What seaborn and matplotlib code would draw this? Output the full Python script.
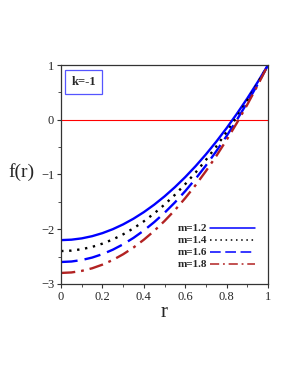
import numpy as np
import pandas as pd
import matplotlib
matplotlib.use("Agg")
import matplotlib.pyplot as plt
import seaborn as sns
from matplotlib.ticker import MultipleLocator

# values
r = [0.0, 0.05, 0.1, 0.15, 0.2, 0.25, 0.3, 0.35, 0.4, 0.45, 0.5,
     0.55, 0.6, 0.65, 0.7, 0.75, 0.8, 0.85, 0.9, 0.95, 1.0]
f_m12 = [-2.2, -2.192, -2.168, -2.128, -2.072, -2.0, -1.912, -1.808, -1.688, -1.552, -1.4,
         -1.232, -1.048, -0.848, -0.632, -0.4, -0.152, 0.112, 0.392, 0.688, 1.0]
f_m14 = [-2.4, -2.392, -2.366, -2.324, -2.264, -2.188, -2.094, -1.984, -1.856, -1.712, -1.55,
         -1.372, -1.176, -0.964, -0.734, -0.488, -0.224, 0.057, 0.354, 0.669, 1.0]
f_m16 = [-2.6, -2.591, -2.564, -2.519, -2.456, -2.375, -2.276, -2.159, -2.024, -1.871, -1.7,
         -1.511, -1.304, -1.079, -0.836, -0.575, -0.296, 0.001, 0.316, 0.649, 1.0]
f_m18 = [-2.8, -2.791, -2.762, -2.715, -2.648, -2.563, -2.458, -2.335, -2.192, -2.031, -1.85,
         -1.652, -1.432, -1.195, -0.938, -0.663, -0.368, -0.055, 0.278, 0.630, 1.0]

labels = ["m=1.2", "m=1.4", "m=1.6", "m=1.8"]
series = [f_m12, f_m14, f_m16, f_m18]
colors = ["#0000ff", "#000000", "#0000ff", "#b22222"]
dashes = ["-", (0, (1, 2.4)), (0, (7, 3)), (0, (6, 2.5, 1.2, 2.5))]

xticks = [0, 0.2, 0.4, 0.6, 0.8, 1]
xtick_labels = ["0", "0.2", "0.4", "0.6", "0.8", "1"]
yticks = [-3, -2, -1, 0, 1]
ytick_labels = ["\u22123", "\u22122", "\u22121", "0", "1"]

sns.set_style("ticks")
plt.rcParams["font.family"] = ["Liberation Serif", "DejaVu Serif"]

fig = plt.figure(figsize=(2.91, 3.76), dpi=100)
ax = fig.add_axes([0.21, 0.245, 0.711, 0.582])

for lab, vals, col, ls in zip(labels, series, colors, dashes):
    sns.lineplot(x=r, y=vals, ax=ax, color=col, linewidth=1.7, label=lab)
    ax.lines[-1].set_linestyle(ls)

ax.axhline(0, color="red", linewidth=0.8, zorder=0)

ax.set_xlim(0, 1)
ax.set_ylim(-3, 1)
ax.set_xticks(xticks)
ax.set_xticklabels(xtick_labels)
ax.set_yticks(yticks)
ax.set_yticklabels(ytick_labels)
ax.xaxis.set_minor_locator(MultipleLocator(0.1))
ax.yaxis.set_minor_locator(MultipleLocator(0.5))
ax.tick_params(which="major", length=3, width=0.8, labelsize=9, pad=2, color="#333333")
ax.tick_params(which="minor", length=2, width=0.6, color="#333333")
for sp in ax.spines.values():
    sp.set_linewidth(0.9)
    sp.set_color("#333333")

ax.set_xlabel("r", fontsize=15, labelpad=0)
ax.set_ylabel("f(r)", fontsize=14, rotation=0, labelpad=0)
ax.yaxis.set_label_coords(-0.19, 0.47)

ax.text(0.05, 0.95, "k=-1", transform=ax.transAxes, fontsize=9, fontweight="bold",
        va="top", ha="left",
        bbox=dict(boxstyle="square,pad=0.5", fc="white", ec="#5555ff", lw=0.9))

leg = ax.legend(loc="lower right", frameon=False, markerfirst=False,
                prop={"weight": "bold", "size": 8}, handlelength=4.0,
                handletextpad=0.3, labelspacing=0.2, borderaxespad=0.6,
                bbox_to_anchor=(0.99, 0.015))
for h in leg.get_lines():
    h.set_linewidth(1.1)

fig.savefig("out.png", dpi=100)
